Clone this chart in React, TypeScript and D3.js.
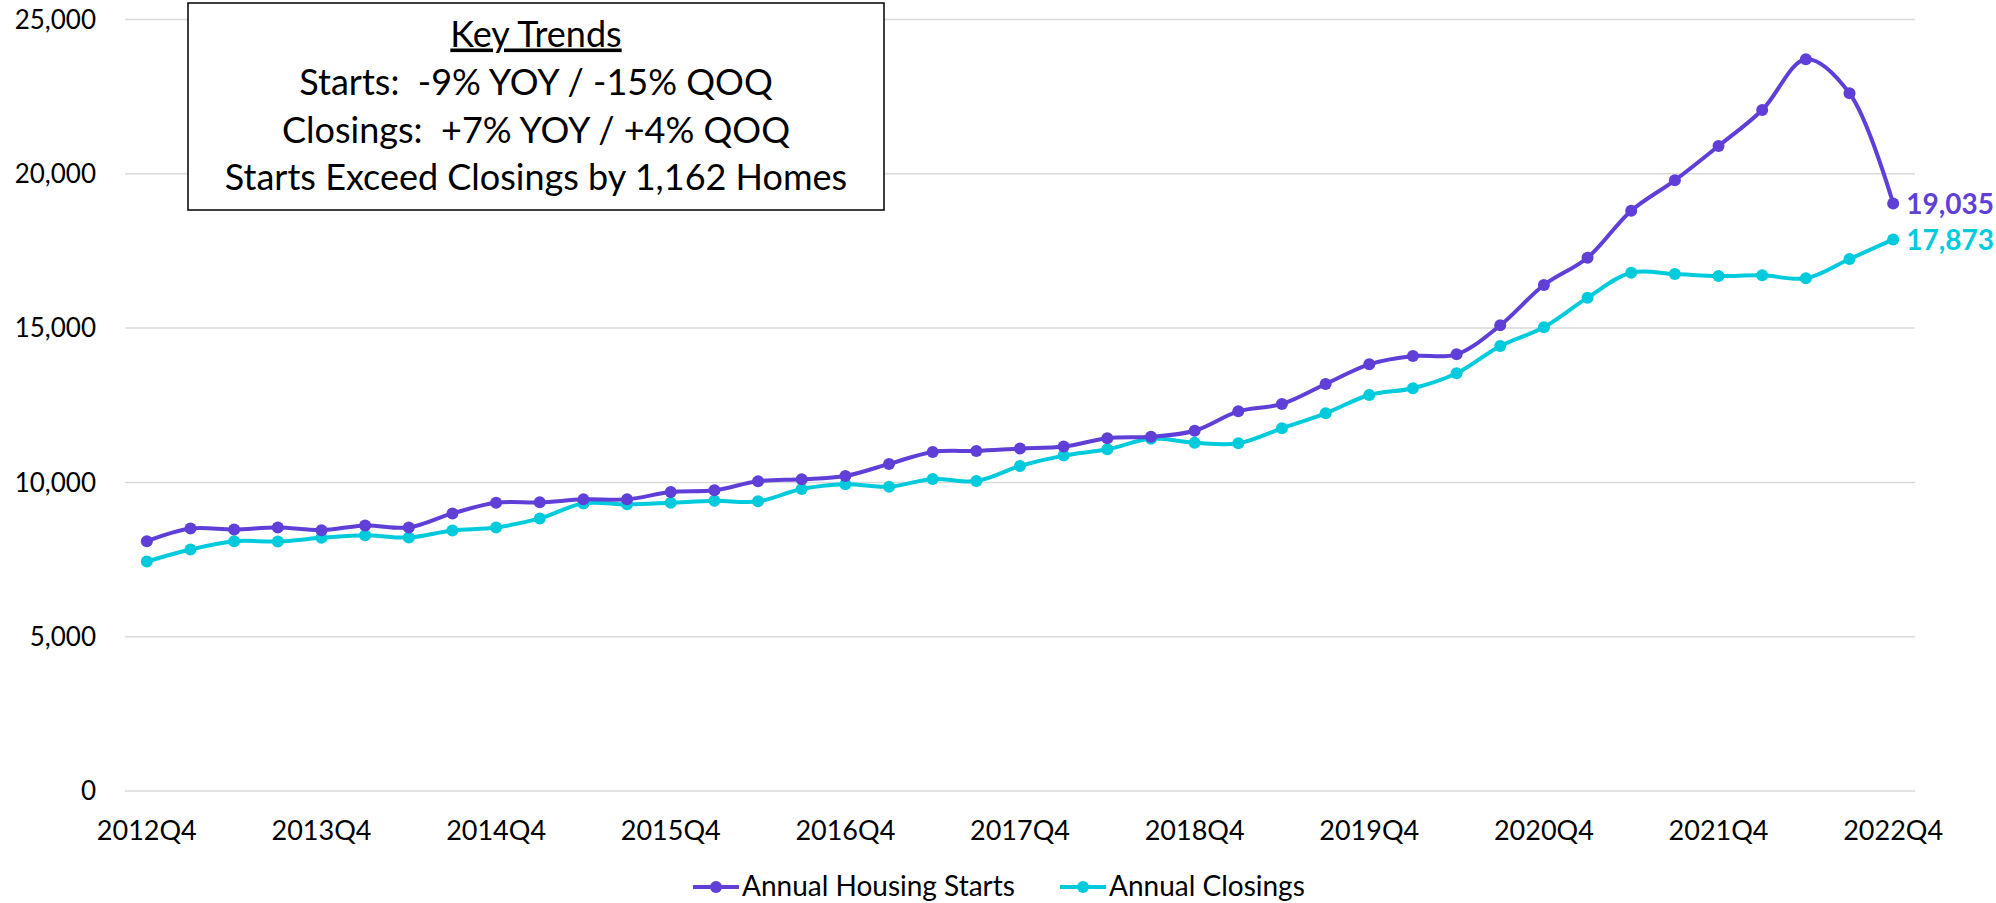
import React, { useRef, useEffect } from "react";
import * as d3 from "d3";

// Annual housing starts vs closings, trailing 4 quarters
const quarters: string[] = [];
for (let yr = 2012; yr <= 2022; yr++) {
  for (let q = 1; q <= 4; q++) {
    if (yr === 2012 && q < 4) continue;
    quarters.push(`${yr}Q${q}`);
  }
}

const starts = [
  8095, 8507, 8475, 8540, 8453, 8605, 8540, 8995, 9340, 9353, 9450,
  9450, 9688, 9743, 10036, 10101, 10208, 10598, 10988, 11021, 11096, 11161,
  11429, 11481, 11675, 12303, 12540, 13189, 13826, 14096, 14150, 15090, 16397,
  17282, 18805, 19789, 20901, 22067, 23710, 22608, 19035,
];

const closings = [
  7435, 7825, 8095, 8085, 8203, 8290, 8215, 8443, 8540, 8833, 9320,
  9288, 9340, 9405, 9386, 9786, 9938, 9860, 10111, 10046, 10533, 10868,
  11072, 11416, 11287, 11266, 11752, 12238, 12832, 13049, 13535, 14420, 15026,
  15986, 16796, 16753, 16688, 16711, 16614, 17239, 17873,
];

const yTicks = [0, 5000, 10000, 15000, 20000, 25000];

const trendLines = [
  "Starts:  -9% YOY / -15% QOQ",
  "Closings:  +7% YOY / +4% QOQ",
  "Starts Exceed Closings by 1,162 Homes",
];

const PURPLE = "#5f3fd7";
const CYAN = "#00cbdc";
const FONT = "Lato, 'Open Sans', sans-serif";

export default function App() {
  const svgRef = useRef<SVGSVGElement>(null);
  const width = 1996;
  const height = 903;

  useEffect(() => {
    const svg = d3.select(svgRef.current);
    svg.selectAll("*").remove();

    const left = 125;
    const right = 1915;
    const top = 19.5;
    const bottom = 791;

    const x = d3.scalePoint<string>().domain(quarters).range([left, right]).padding(0.5);
    const y = d3.scaleLinear().domain([0, 25000]).range([bottom, top]);

    svg.append("rect").attr("width", width).attr("height", height).attr("fill", "#fff");

    // gridlines
    svg
      .append("g")
      .selectAll("line")
      .data(yTicks)
      .join("line")
      .attr("x1", left)
      .attr("x2", right)
      .attr("y1", (d) => y(d))
      .attr("y2", (d) => y(d))
      .attr("stroke", "#d9d9d9")
      .attr("stroke-width", 1.5);

    // y labels
    svg
      .append("g")
      .selectAll("text")
      .data(yTicks)
      .join("text")
      .attr("x", 96)
      .attr("y", (d) => y(d))
      .attr("dy", "0.35em")
      .attr("text-anchor", "end")
      .attr("font-family", FONT)
      .attr("font-size", 26)
      .attr("fill", "#000")
      .text((d) => d3.format(",")(d));

    // x labels every 4 quarters
    svg
      .append("g")
      .selectAll("text")
      .data(quarters.filter((q) => q.endsWith("Q4")))
      .join("text")
      .attr("x", (d) => x(d)!)
      .attr("y", 840)
      .attr("text-anchor", "middle")
      .attr("font-family", FONT)
      .attr("font-size", 27)
      .attr("fill", "#000")
      .text((d) => d);

    const series = [
      { name: "Annual Housing Starts", values: starts, color: PURPLE },
      { name: "Annual Closings", values: closings, color: CYAN },
    ];

    const line = d3
      .line<number>()
      .x((_, i) => x(quarters[i])!)
      .y((d) => y(d))
      .curve(d3.curveCatmullRom.alpha(0.5));

    series
      .slice()
      .reverse()
      .forEach((s) => {
        const g = svg.append("g");
        g.append("path")
          .attr("d", line(s.values))
          .attr("fill", "none")
          .attr("stroke", s.color)
          .attr("stroke-width", 4)
          .attr("stroke-linejoin", "round");
        g.selectAll("circle")
          .data(s.values)
          .join("circle")
          .attr("cx", (_, i) => x(quarters[i])!)
          .attr("cy", (d) => y(d))
          .attr("r", 6)
          .attr("fill", s.color);
        const last = s.values[s.values.length - 1];
        g.append("text")
          .attr("x", x(quarters[quarters.length - 1])! + 13)
          .attr("y", y(last))
          .attr("dy", "0.36em")
          .attr("font-family", FONT)
          .attr("font-weight", 700)
          .attr("font-size", 28)
          .attr("fill", s.color)
          .text(d3.format(",")(last));
      });

    // key trends box
    const box = svg.append("g");
    box
      .append("rect")
      .attr("x", 188)
      .attr("y", 3)
      .attr("width", 696)
      .attr("height", 207)
      .attr("fill", "#fff")
      .attr("stroke", "#000")
      .attr("stroke-width", 1.5);
    const cx = 536;
    box
      .append("text")
      .attr("x", cx)
      .attr("y", 46.5)
      .attr("text-anchor", "middle")
      .attr("font-family", FONT)
      .attr("font-size", 36)
      .attr("text-decoration", "underline")
      .attr("fill", "#000")
      .text("Key Trends");
    box
      .selectAll("text.trend")
      .data(trendLines)
      .join("text")
      .attr("class", "trend")
      .attr("x", cx)
      .attr("y", (_, i) => 95 + i * 47.5)
      .attr("text-anchor", "middle")
      .attr("font-family", FONT)
      .attr("font-size", 36)
      .attr("fill", "#000")
      .style("white-space", "pre")
      .text((d) => d);

    // legend
    const legend = svg.append("g");
    const legendItems = [
      { ...series[0], x0: 693 },
      { ...series[1], x0: 1060 },
    ];
    legendItems.forEach((it) => {
      legend
        .append("line")
        .attr("x1", it.x0)
        .attr("x2", it.x0 + 46)
        .attr("y1", 887)
        .attr("y2", 887)
        .attr("stroke", it.color)
        .attr("stroke-width", 4);
      legend
        .append("circle")
        .attr("cx", it.x0 + 23)
        .attr("cy", 887)
        .attr("r", 6)
        .attr("fill", it.color);
      legend
        .append("text")
        .attr("x", it.x0 + 49)
        .attr("y", 896)
        .attr("font-family", FONT)
        .attr("font-size", 28)
        .attr("fill", "#000")
        .text(it.name);
    });
  }, []);

  return (
    <svg
      ref={svgRef}
      width={width}
      height={height}
      style={{ position: "absolute", left: 0, top: 0 }}
    />
  );
}
